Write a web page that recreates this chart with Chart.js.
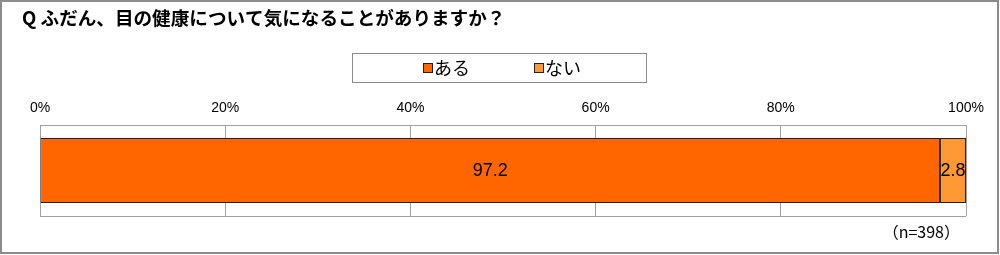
<!DOCTYPE html>
<html>
<head>
<meta charset="utf-8">
<script src="https://cdn.jsdelivr.net/npm/chart.js@4"></script>
<style>
  html, body { margin: 0; padding: 0; background: #ffffff; }
  canvas { display: block; }
</style>
</head>
<body>
<canvas id="chart" width="1000" height="255"></canvas>
<script>

const titleText = "Q ふだん、目の健康について気になることがありますか？";

const noteText = "（n=398）";

const categories = [""];

const seriesNames = ["ある", "ない"];

const seriesValues = [

    [97.2],

    [2.8]

];

const seriesColors = ["#ff6600", "#ff9933"];

const tickLabels = ["0%", "20%", "40%", "60%", "80%", "100%"];

const jpFont = "'Noto Sans CJK JP', sans-serif";

const numFont = "'Liberation Sans', Arial, sans-serif";

/* frame, title, legend box and note */
const extrasPlugin = {

    id: "extras",

    afterDraw(chart) {

        const ctx = chart.ctx;

        ctx.save();

        // outer frame
        ctx.strokeStyle = "#8c8c8c";
        ctx.lineWidth = 2;
        ctx.strokeRect(1, 1, 997, 252);

        // title
        ctx.fillStyle = "#000000";
        ctx.font = "bold 18.6px " + jpFont;
        ctx.textAlign = "left";
        ctx.textBaseline = "middle";
        ctx.fillText(titleText, 22, 18);

        // legend box
        ctx.strokeStyle = "#8c8c8c";
        ctx.lineWidth = 1;
        ctx.strokeRect(352.5, 53.5, 294, 29);

        const itemX = [423, 534];

        chart.data.datasets.forEach((ds, i) => {

            ctx.fillStyle = ds.backgroundColor;
            ctx.fillRect(itemX[i], 63, 9, 9);
            ctx.strokeStyle = "#222222";
            ctx.strokeRect(itemX[i] + 0.5, 63.5, 9, 9);

            ctx.fillStyle = "#000000";
            ctx.font = "18px " + jpFont;
            ctx.textAlign = "left";
            ctx.fillText(ds.label, itemX[i] + 11, 68);

        });

        // sample size note
        ctx.font = "16px " + jpFont;
        ctx.textAlign = "right";
        ctx.fillText(noteText, 960, 232);

        ctx.restore();

    }

};

/* value labels centred in each segment */
const valueLabelPlugin = {

    id: "valueLabels",

    afterDatasetsDraw(chart) {

        const ctx = chart.ctx;

        ctx.save();

        ctx.fillStyle = "#000000";
        ctx.font = "18px " + numFont;
        ctx.textAlign = "center";
        ctx.textBaseline = "middle";

        chart.data.datasets.forEach((ds, i) => {

            chart.getDatasetMeta(i).data.forEach((bar, j) => {

                const cx = (bar.x + bar.base) / 2;

                ctx.fillText(ds.data[j].toFixed(1), cx, bar.y + 1);

            });

        });

        ctx.restore();

    }

};

new Chart(document.getElementById("chart").getContext("2d"), {

    type: "bar",

    data: {

        labels: categories,

        datasets: seriesNames.map((name, i) => ({

            label: name,

            data: seriesValues[i],

            backgroundColor: seriesColors[i],

            borderColor: "#222222",

            borderWidth: 1,

            borderSkipped: false,

            categoryPercentage: 1,

            barPercentage: 0.714

        }))

    },

    options: {

        indexAxis: "y",

        responsive: false,

        animation: false,

        layout: {

            padding: { left: 40, right: 34, top: 90, bottom: 39 }

        },

        scales: {

            x: {

                position: "top",

                stacked: true,

                min: 0,

                max: 100,

                afterFit(scale) {

                    scale.height = 35;

                },

                ticks: {

                    stepSize: 20,

                    padding: 8,

                    color: "#000000",

                    font: { family: numFont, size: 14 },

                    callback: (value, index) => tickLabels[index]

                },

                grid: {

                    color: "#a0a0a0",

                    drawTicks: false

                },

                border: { display: false }

            },

            y: {

                stacked: true,

                afterFit(scale) {

                    scale.width = 0;

                },

                ticks: { display: false },

                grid: {

                    color: "#a0a0a0",

                    drawTicks: false

                },

                border: { display: false }

            }

        },

        plugins: {

            legend: { display: false },

            tooltip: { enabled: false }

        }

    },

    plugins: [extrasPlugin, valueLabelPlugin]

});

</script>
</body>
</html>
